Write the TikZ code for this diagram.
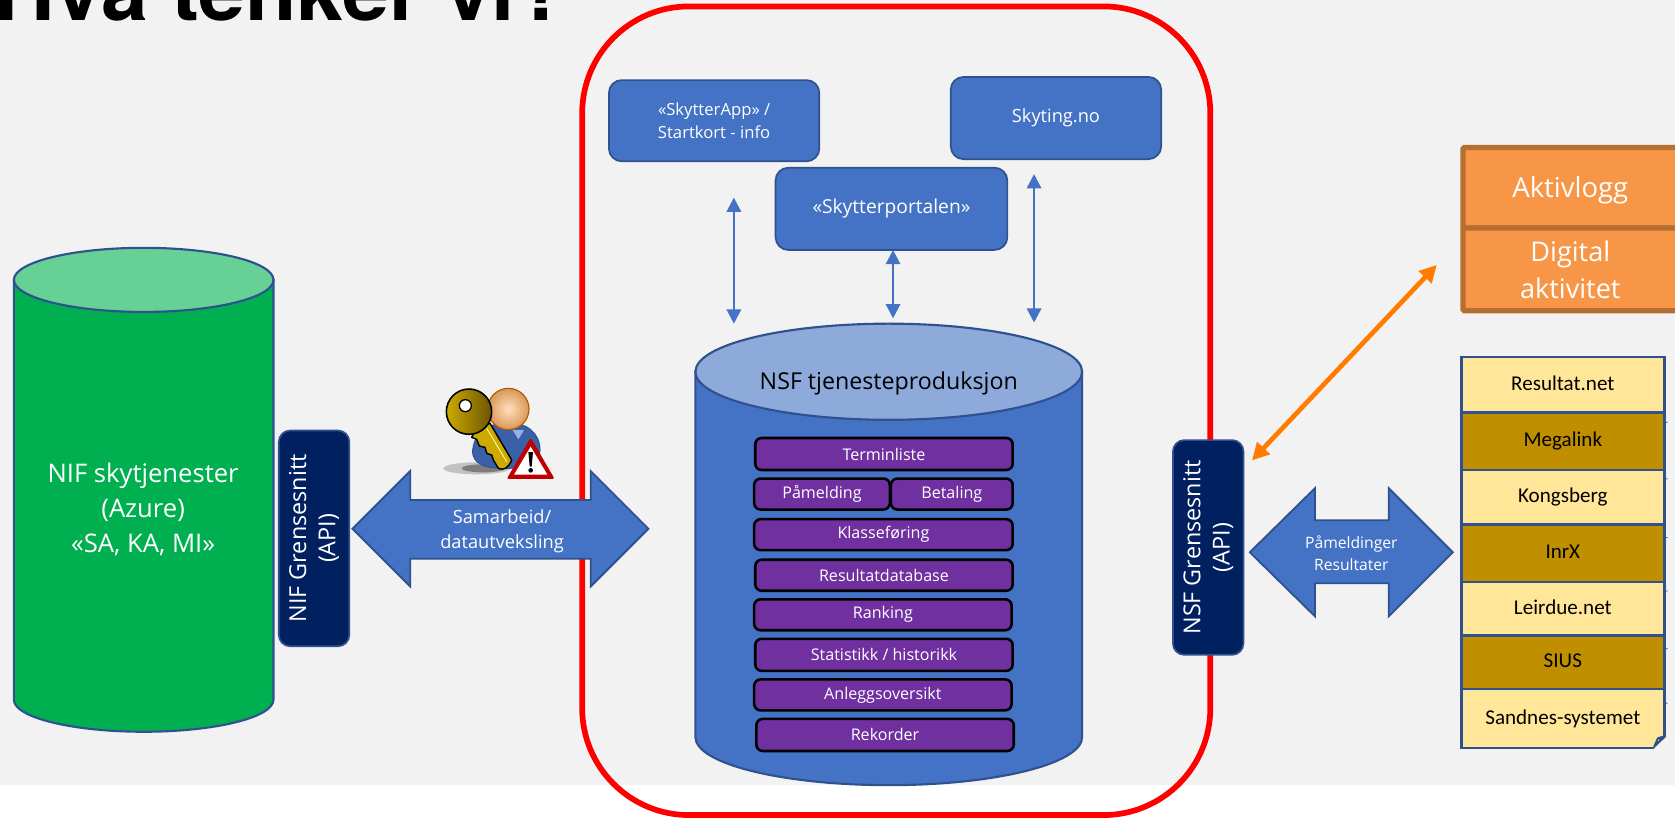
\documentclass[tikz,border=0pt]{standalone}
\usepackage{fontspec}
\setmainfont{Carlito}
\newfontfamily\seg{Open Sans}
\newfontfamily\ttl{TeX Gyre Heros}
\usetikzlibrary{arrows.meta}
\definecolor{bgg}{HTML}{F2F2F2}
\definecolor{bl}{HTML}{4472C4}
\definecolor{bls}{HTML}{2F528F}
\definecolor{navy}{HTML}{002060}
\definecolor{purp}{HTML}{7030A0}
\definecolor{grn}{HTML}{00B050}
\definecolor{grnl}{HTML}{66D095}
\definecolor{bll}{HTML}{8EAADB}
\definecolor{org}{HTML}{F79646}
\definecolor{orgs}{HTML}{B66F31}
\definecolor{orgar}{HTML}{FF7C00}
\definecolor{ylw}{HTML}{FFE699}
\definecolor{gld}{HTML}{BF8F00}
\definecolor{keyl}{HTML}{CDAA00}
\definecolor{keyd}{HTML}{6B5500}
\newcommand{\bx}[7]{\node[#6,minimum width={(#4-#2)*0.75pt},minimum height={(#5-#3)*0.75pt},inner sep=0pt,outer sep=0pt] (#1) at ({(#2+#4)/2},{(#3+#5)/2}) {#7};}
\newcommand{\cyl}[7]{% x1 ytop x2 ysidebottom ry fill topfill
 \pgfmathsetmacro{\cxx}{(#1+#3)/2}\pgfmathsetmacro{\rxx}{(#3-#1)/2}
 \pgfmathsetmacro{\kx}{0.552*\rxx}\pgfmathsetmacro{\ky}{0.552*#5}
 \draw[cylline,fill=#6] (#1,#2) -- (#1,#4) .. controls (#1,#4+\ky) and (\cxx-\kx,#4+#5) .. (\cxx,#4+#5) .. controls (\cxx+\kx,#4+#5) and (#3,#4+\ky) .. (#3,#4) -- (#3,#2) -- cycle;
 \draw[cylline,fill=#7] (#1,#2) .. controls (#1,#2-\ky) and (\cxx-\kx,#2-#5) .. (\cxx,#2-#5) .. controls (\cxx+\kx,#2-#5) and (#3,#2-\ky) .. (#3,#2) .. controls (#3,#2+\ky) and (\cxx+\kx,#2+#5) .. (\cxx,#2+#5) .. controls (\cxx-\kx,#2+#5) and (#1,#2+\ky) .. cycle;}
\newcommand{\lt}[1]{\raisebox{2.2pt}{#1}}
\tikzset{
 cylline/.style={draw=bls,line width=1.5pt},
 topbox/.style={draw=bls,fill=bl,line width=1.2pt,rounded corners=9pt,text=white,align=center,font=\seg\fontsize{11.7}{16}\selectfont},
 apibox/.style={draw=bls,fill=navy,line width=1.2pt,rounded corners=8pt},
 apitext/.style={rotate=90,align=center,text=white,font=\seg\fontsize{16.4}{20.5}\selectfont},
 purpbox/.style={draw=black,fill=purp,line width=1.8pt,rounded corners=4.5pt,text=white,font=\seg\fontsize{11.3}{13}\selectfont},
 listlt/.style={draw=bls,fill=ylw,line width=1.7pt,text=black,font=\fontsize{14.8}{16}\selectfont},
 listdk/.style={draw=bls,fill=gld,line width=1.7pt,text=black,font=\fontsize{14.8}{16}\selectfont},
 orgbox/.style={draw=orgs,fill=org,line width=3.7pt,rounded corners=1pt},
 fatarrow/.style={draw=bls,fill=bl,line width=1.3pt,line join=miter},
 thinarrow/.style={draw=bl,line width=1.7pt,{Triangle[length=10pt,width=10pt]}-{Triangle[length=10pt,width=10pt]}},
 fattext/.style={text=white,align=center},
}
\begin{document}
\begin{tikzpicture}[x=0.75pt,y=-0.75pt]
\useasboundingbox (0,0) rectangle (1568,766);
\fill[white] (0,0) rectangle (1568,766);
\fill[bgg] (0,0) rectangle (1568,735);
\node[anchor=base west,inner sep=0pt,font=\ttl\bfseries\fontsize{59}{64}\selectfont] (title) at (-5,19) {Hva tenker vi?};
% red frame
\draw[red,line width=4pt,rounded corners=75pt] (545,6) rectangle (1133,763);
% green cylinder
\cyl{13}{262}{256}{655}{30}{grn}{grnl}
\node[text=white,align=center,font=\seg\fontsize{18}{24.5}\selectfont] (nif) at (134,477) {NIF skytjenester\\(Azure)\\«SA, KA, MI»};
\bx{nifapi}{261}{403}{327}{605}{apibox}{}
\node[apitext] (nifapit) at (nifapi) {NIF Grensesnitt\\(API)};
% left fat arrow
\draw[fatarrow] (330,495) -- (384,441) -- (384,468) -- (553,468) -- (553,441) -- (607,495) -- (553,549) -- (553,523) -- (384,523) -- (384,549) -- cycle;
\node[fattext,font=\seg\fontsize{12.8}{17.5}\selectfont] (samarb) at (470,497) {Samarbeid/\\datautveksling};
% icon
\begin{scope}[shift={(299.6,318.3)},x=0.234pt,y=-0.234pt]
 \fill[black,opacity=.2] (470,385) ellipse [x radius=100,y radius=18];
 \fill[black,opacity=.35] (490,385) ellipse [x radius=65,y radius=12];
 \draw[fill=bl!85!black,draw=bls,line width=.7pt] (458,330) .. controls (465,270) and (510,250) .. (560,250) .. controls (620,245) and (660,280) .. (660,330) .. controls (660,370) and (620,385) .. (560,385) .. controls (500,385) and (455,375) .. (458,330) -- cycle;
 \fill[bl!55!white] (578,270) -- (595,298) -- (612,270) -- cycle;
 \shade[inner color=orange!25!white,outer color=orange!60!white!85!black,draw=orange!70!black,line width=.8pt] (565,207) circle [radius=62];
 % key shaft
 \draw[black,line width=1pt,fill=keyl,line join=round] (470,262) -- (510,250) -- (575,360) .. controls (565,385) and (550,392) .. (535,385) -- (520,360) -- (515,345) -- (500,340) -- (495,322) -- (478,318) -- (470,298) -- (455,292) -- cycle;
 \draw[white!70!yellow,line width=.6pt] (500,265) -- (560,365);
 \shade[left color=keyl,right color=keyd,draw=black,line width=1.1pt] (447,215) circle [radius=68];
 \draw[black,fill=white,line width=.9pt] (436,197) circle [radius=18];
 % warning
 \fill[red!75!black,rounded corners=1.5pt] (632,293) -- (704,417) -- (560,417) -- cycle;
 \fill[white] (632,320) -- (682,404) -- (582,404) -- cycle;
 \fill[black] (625,336) -- (639,336) -- (635,380) -- (629,380) -- cycle;
 \fill[black] (632,391) circle [radius=7];
\end{scope}
% top boxes
\bx{app}{570}{75}{767}{151}{topbox}{«SkytterApp» /\\Startkort - info}
\bx{skyting}{890}{72}{1087}{149}{topbox,font=\seg\fontsize{12.8}{16}\selectfont}{\raisebox{-2.5pt}{Skyting.no}}
\bx{portal}{726}{157}{943}{234}{topbox,font=\seg\fontsize{13.5}{16}\selectfont}{\raisebox{-1.5pt}{«Skytterportalen»}}
% blue cylinder
\cyl{651}{348}{1013}{690}{45}{bl}{bll}
\node[font=\seg\fontsize{16.3}{18}\selectfont] (nsf) at (832,359) {NSF tjenesteproduksjon};
% arrows
\coordinate (a1t) at (687,185); \coordinate (a1b) at (687,303);
\coordinate (a2b) at (836,298);
\coordinate (a3t) at (968,163); \coordinate (a3b) at (968,302);
\draw[thinarrow] (a1t) -- (a1b);
\draw[thinarrow] (portal.south -| a2b) -- (a2b);
\draw[thinarrow] (a3t) -- (a3b);
% purple
\bx{p1}{707}{410}{948}{440}{purpbox}{\raisebox{-.7pt}{Terminliste}}
\bx{p2}{706}{448}{833}{477}{purpbox}{\raisebox{-.7pt}{Påmelding}}
\bx{p2b}{834}{448}{948}{477}{purpbox}{\raisebox{-.7pt}{Betaling}}
\bx{p3}{706}{486}{948}{515}{purpbox}{\raisebox{-.7pt}{Klasseføring}}
\bx{p4}{707}{524}{948}{553}{purpbox}{\raisebox{-.7pt}{Resultatdatabase}}
\bx{p5}{706}{561}{947}{590}{purpbox}{\raisebox{-.7pt}{Ranking}}
\bx{p6}{707}{598}{948}{628}{purpbox}{\raisebox{-.7pt}{Statistikk / historikk}}
\bx{p7}{706}{636}{947}{665}{purpbox}{\raisebox{-.7pt}{Anleggsoversikt}}
\bx{p8}{708}{673}{949}{703}{purpbox}{\raisebox{-.7pt}{Rekorder}}
% NSF API
\bx{nsfapi}{1098}{412}{1164}{613}{apibox}{}
\node[apitext] (nsfapit) at (nsfapi) {NSF Grensesnitt\\(API)};
% right fat arrow
\draw[fatarrow] (1170,517) -- (1231,457) -- (1231,487) -- (1300,487) -- (1300,457) -- (1360,517) -- (1300,577) -- (1300,546) -- (1231,546) -- (1231,577) -- cycle;
\node[fattext,font=\seg\fontsize{11}{15}\selectfont] (paam) at (1265,518) {Påmeldinger\\Resultater};
% orange table
\bx{akt}{1369.5}{138}{1580}{213.5}{orgbox}{}
\bx{dig}{1369.5}{213.5}{1580}{291}{orgbox}{}
\node[text=white,font=\seg\fontsize{19.3}{24}\selectfont] (aktt) at (1470,178) {Aktivlogg};
\node[text=white,align=center,font=\seg\fontsize{19}{26}\selectfont] (digt) at (1470,253) {Digital\\aktivitet};
% orange arrow
\coordinate (o1) at (1172,431); \coordinate (o2) at (1345,248);
\draw[orgar,line width=3.3pt,{Triangle[length=12pt,width=12pt]}-{Triangle[length=12pt,width=12pt]}] (o1) -- (o2);
% list
\bx{l1}{1368}{334}{1558}{386}{listlt}{\lt{Resultat.net}}
\bx{l2}{1368}{386}{1558}{440}{listdk}{\lt{Megalink}}
\bx{l3}{1368}{440}{1558}{491}{listlt}{\lt{Kongsberg}}
\bx{l4}{1368}{491}{1558}{545}{listdk}{\lt{InrX}}
\bx{l5}{1368}{545}{1558}{595}{listlt}{\lt{Leirdue.net}}
\bx{l6}{1368}{595}{1558}{645}{listdk}{\lt{SIUS}}
\bx{l7}{1368}{645}{1558}{700}{listlt}{\lt{Sandnes-systemet}}
\foreach \yy in {395,448,503,553,607,658} \draw[bls,line width=.5pt] (1558,\yy+1) -- (1561,\yy);
% folded corner
\fill[bgg] (1548,702) -- (1562,702) -- (1562,687) -- cycle;
\fill[bgg] (1548,702) -- (1562,702) -- (1562,689) -- (1548,701) -- cycle;
\draw[bls,line width=1.3pt,line join=round,fill=bls] (1548.5,699) -- (1552,691) -- (1559,689) -- cycle;
\fill[ylw!60!gray] (1552.5,693) circle [radius=.8];
\end{tikzpicture}
\end{document}
